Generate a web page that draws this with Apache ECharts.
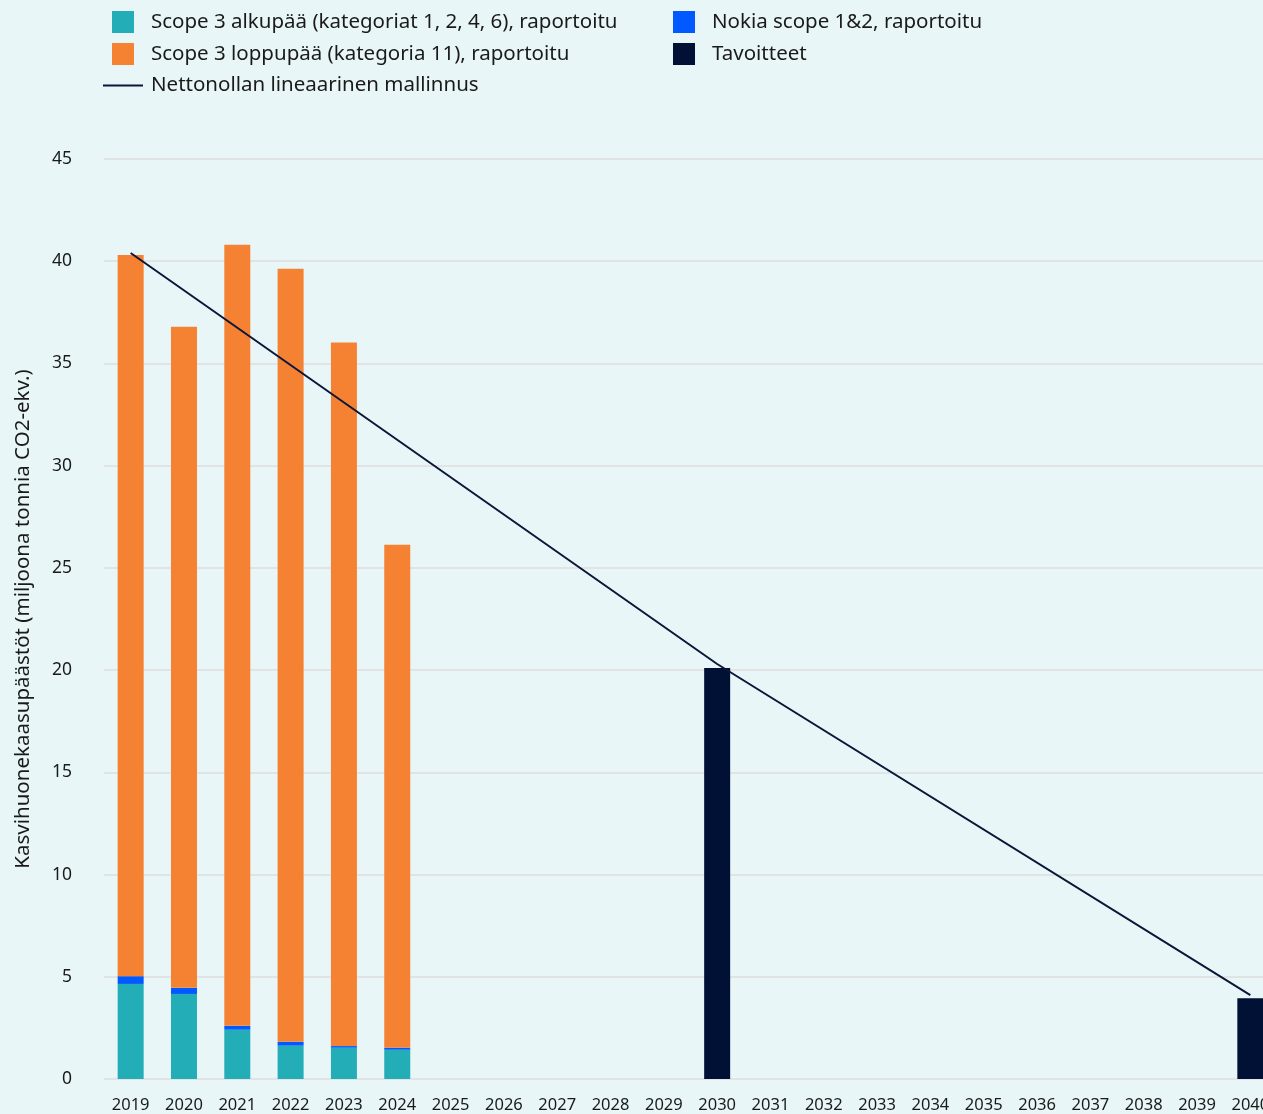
<!DOCTYPE html>
<html>
<head>
<meta charset="utf-8">
<script src="https://cdn.jsdelivr.net/npm/echarts@6/dist/echarts.min.js"></script>
<style>
  html, body { margin: 0; padding: 0; background: #e8f6f7; overflow: hidden; }
  /* the plot runs slightly past the right edge of the page */
  #chart { width: 1290px; height: 1114px; }
</style>
</head>
<body>
<div id="chart"></div>
<script>
// Years on the category axis
const years = ['2019','2020','2021','2022','2023','2024','2025','2026','2027','2028','2029',
               '2030','2031','2032','2033','2034','2035','2036','2037','2038','2039','2040'];

// Reported emissions (million tonnes CO2e)
const upstream   = [4.65, 4.16, 2.41, 1.63, 1.53, 1.43, null, null, null, null, null, null, null, null, null, null, null, null, null, null, null, null];
const scope12    = [0.38, 0.30, 0.19, 0.19, 0.08, 0.10, null, null, null, null, null, null, null, null, null, null, null, null, null, null, null, null];
const downstream = [35.28, 32.34, 38.20, 37.81, 34.41, 24.60, null, null, null, null, null, null, null, null, null, null, null, null, null, null, null, null];

// Targets
const targets = [null, null, null, null, null, null, null, null, null, null, null, 20.1, null, null, null, null, null, null, null, null, null, 3.95];

// Net-zero linear pathway anchor points
const pathway = [40.4, null, null, null, null, null, null, null, null, null, null, 20.3, null, null, null, null, null, null, null, null, null, 4.1];

const names = {
  upstream: 'Scope 3 alkupää (kategoriat 1, 2, 4, 6), raportoitu',
  downstream: 'Scope 3 loppupää (kategoria 11), raportoitu',
  scope12: 'Nokia scope 1&2, raportoitu',
  targets: 'Tavoitteet',
  pathway: 'Nettonollan lineaarinen mallinnus'
};

const FONT = 'Noto Sans';
const TXT = '#1a1a1a';

const chart = echarts.init(document.getElementById('chart'));
const legendText = { fontFamily: FONT, fontSize: 20.5, color: TXT, padding: [0, 0, 0, 12] };

chart.setOption({
  backgroundColor: '#e8f6f7',
  animation: false,
  legend: [
    {
      left: 112, top: 11, padding: 0, orient: 'vertical', itemWidth: 22, itemHeight: 22, itemGap: 10,
      textStyle: legendText, data: [names.upstream, names.downstream],
      icon: 'rect'
    },
    {
      left: 673, top: 11, padding: 0, orient: 'vertical', itemWidth: 22, itemHeight: 22, itemGap: 10,
      textStyle: legendText, data: [names.scope12, names.targets],
      icon: 'rect'
    },
    {
      left: 103, top: 75, padding: 0, itemWidth: 40, itemHeight: 2, itemGap: 10,
      textStyle: Object.assign({}, legendText, { padding: [0, 0, 0, 3] }), data: [names.pathway],
      icon: 'rect'
    }
  ],
  grid: { left: 104, width: 1173, top: 159, bottom: 32, containLabel: false },
  xAxis: {
    type: 'category',
    data: years,
    axisLine: { show: false },
    axisTick: { show: false },
    axisLabel: { fontFamily: FONT, fontSize: 16.5, color: TXT, margin: 18, interval: 0 }
  },
  yAxis: {
    type: 'value',
    min: 0, max: 45, interval: 5,
    name: 'Kasvihuonekaasupäästöt (miljoona tonnia CO2-ekv.)',
    nameLocation: 'middle',
    nameGap: 70,
    nameTextStyle: { fontFamily: FONT, fontSize: 20.5, color: TXT },
    axisLine: { show: false },
    axisTick: { show: false },
    axisLabel: { fontFamily: FONT, fontSize: 17.5, color: TXT, margin: 32 },
    splitLine: { lineStyle: { color: '#e2e4e4', width: 2 } }
  },
  series: [
    {
      name: names.upstream, type: 'bar', stack: 'total', barWidth: 26,
      itemStyle: { color: '#23adb7' }, data: upstream
    },
    {
      name: names.scope12, type: 'bar', stack: 'total', barWidth: 26,
      itemStyle: { color: '#005aff' }, data: scope12
    },
    {
      name: names.downstream, type: 'bar', stack: 'total', barWidth: 26,
      itemStyle: { color: '#f58233' }, data: downstream
    },
    {
      name: names.targets, type: 'bar', stack: 'total', barWidth: 26,
      itemStyle: { color: '#001135' }, data: targets
    },
    {
      name: names.pathway, type: 'line', data: pathway,
      connectNulls: true, symbol: 'none', z: 5,
      lineStyle: { color: '#0b1638', width: 2 },
      itemStyle: { color: '#0b1638' }
    }
  ]
});
</script>
</body>
</html>
